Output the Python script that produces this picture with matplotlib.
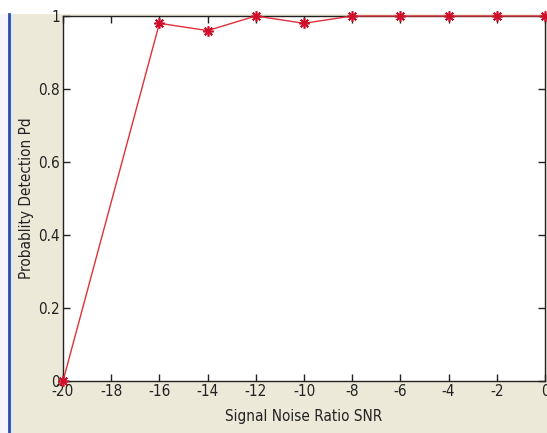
import matplotlib
matplotlib.use("Agg")
import matplotlib.pyplot as plt
from matplotlib.lines import Line2D
from matplotlib.patches import Rectangle

snr = [-20, -16, -14, -12, -10, -8, -6, -4, -2, 0]
pd = [0.0, 0.98, 0.96, 1.0, 0.98, 1.0, 1.0, 1.0, 1.0, 1.0]
xticks = [-20, -18, -16, -14, -12, -10, -8, -6, -4, -2, 0]
yticks = [0, 0.2, 0.4, 0.6, 0.8, 1]
ytick_labels = ["0", "0.2", "0.4", "0.6", "0.8", "1"]

plt.rcParams['font.family'] = ['DejaVu Sans']
plt.rcParams['font.stretch'] = 'condensed'

W, H = 547, 433
fig = plt.figure(figsize=(W / 100, H / 100), dpi=100, facecolor='#ece9d8')
fig.add_artist(Rectangle((0, 1 - 14 / H), 1, 14 / H, transform=fig.transFigure,
                         facecolor='white', edgecolor='none', zorder=0))
fig.add_artist(Rectangle((0, 0), 8 / W, 1 - 14 / H, transform=fig.transFigure,
                         facecolor='#f4f6fb', edgecolor='none', zorder=0))
fig.add_artist(Rectangle((9.5 / W, 0), 4 / W, 1 - 14 / H, transform=fig.transFigure,
                         facecolor='#dde8f2', edgecolor='none', zorder=0))
fig.add_artist(Line2D([8.5 / W, 8.5 / W], [0, 1 - 14 / H], transform=fig.transFigure,
                      color='#2b4fa8', lw=2, zorder=1))

ax = fig.add_axes([63 / W, (H - 381) / H, 482 / W, 365 / H])
ax.set_facecolor('white')
ax.plot(snr, pd, color='#e0303a', lw=1, marker=(8, 2, 0), markersize=7.5, mew=1.2,
        markeredgecolor='#d0102a', clip_on=False, zorder=5)
ax.set_xlim(-20, 0)
ax.set_ylim(0, 1)
ax.set_xticks(xticks)
ax.set_xticklabels([str(t) for t in xticks])
ax.set_yticks(yticks)
ax.set_yticklabels(ytick_labels)
ax.tick_params(direction='in', top=True, right=True, length=5, width=1,
               labelsize=11, pad=2, colors='#222222')
for s in ax.spines.values():
    s.set_color('#222222')
    s.set_linewidth(1)
ax.set_xlabel('Signal Noise Ratio SNR', fontsize=11, labelpad=7, color='#222222')
ax.set_ylabel('Probablity Detection Pd', fontsize=11, labelpad=3, color='#222222')

fig.savefig('out.png', dpi=100, facecolor=fig.get_facecolor())
